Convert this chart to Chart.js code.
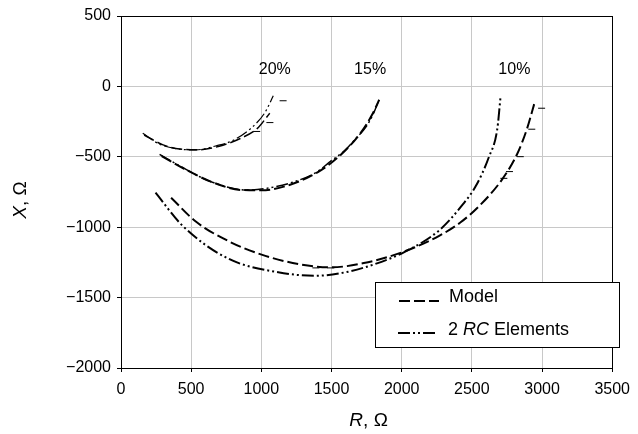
<!DOCTYPE html>
<html>
<head>
<meta charset="utf-8">
<script src="https://cdn.jsdelivr.net/npm/chart.js@4"></script>
<style>
  html, body { margin: 0; padding: 0; background: #fff; }
  #wrap { width: 638px; height: 434px; }
</style>
</head>
<body>
<div id="wrap"><canvas id="grafico" width="638" height="434"></canvas></div>
<script>
// valores (R, X em ohms)
const r20Model = [165, 300, 420, 550, 700, 850, 970, 1060];
const x20Model = [-345, -415, -445, -450, -425, -370, -300, -190];
const r20Rc = [155, 275, 392, 533, 674, 791, 932, 1026, 1085];
const x20Rc = [-333, -411, -442, -451, -423, -387, -292, -185, -67];

const r15Model = [290, 450, 650, 850, 1000, 1200, 1400, 1550, 1700, 1790, 1840];
const x15Model = [-495, -585, -680, -735, -738, -700, -610, -500, -340, -200, -95];
const r15Rc = [275, 420, 600, 800, 908, 1050, 1250, 1401, 1481, 1600, 1669, 1751, 1800, 1833];
const x15Rc = [-483, -565, -660, -725, -736, -722, -672, -605, -541, -450, -375, -280, -190, -110];

const r10Model = [357, 533, 768, 1002, 1265, 1495, 1730, 2012, 2270, 2420, 2552, 2716, 2822, 2892, 2944];
const x10Model = [-791, -960, -1100, -1195, -1262, -1285, -1255, -1175, -1060, -965, -850, -660, -482, -304, -126];
const r10Rc = [246, 439, 768, 1120, 1380, 1600, 1800, 2012, 2270, 2434, 2528, 2622, 2681, 2704];
const x10Rc = [-755, -990, -1225, -1320, -1345, -1320, -1265, -1180, -1020, -840, -708, -500, -304, -78];

// pequenos traços ao longo das curvas
const markR = [1155, 1061, 967, 897, 1389, 1495, 2997, 2927, 2845, 2768, 2728];
const markX = [-102, -257, -320, -736, -1289, -1289, -155, -304, -499, -605, -653];

// rótulos das curvas
const curveLabels = ["20%", "15%", "10%"];
const labelR = [1096, 1775, 2803];
const labelX = [120, 120, 120];

const xTicks = [0, 500, 1000, 1500, 2000, 2500, 3000, 3500];
const yTicks = [500, 0, -500, -1000, -1500, -2000];

const dashModel = [11, 4];
const dashRc = [12, 3, 2, 3, 2, 3];

function pontos(rs, xs) {
    return rs.map((r, i) => ({ x: r, y: xs[i] }));
}

function serie(label, rs, xs, dash, largura) {
    return {
        label: label,
        data: pontos(rs, xs),
        showLine: true,
        borderColor: "#000",
        borderWidth: largura,
        borderDash: dash,
        pointRadius: 0,
        cubicInterpolationMode: "monotone",
        fill: false
    };
}

const fonte = "'Liberation Sans', Arial, sans-serif";

// rótulos, títulos dos eixos, moldura e legenda
const extras = {
    id: "extras",
    afterDraw(chart) {
        const ctx = chart.ctx;
        const a = chart.chartArea;
        const sx = chart.scales.x;
        const sy = chart.scales.y;
        ctx.save();

        // moldura
        ctx.strokeStyle = "#000";
        ctx.lineWidth = 1;
        ctx.setLineDash([]);
        ctx.strokeRect(Math.round(a.left) + 0.5, Math.round(a.top) + 0.5,
            Math.round(a.right - a.left), Math.round(a.bottom - a.top));

        // rótulos das curvas
        ctx.fillStyle = "#000";
        ctx.font = "16px " + fonte;
        ctx.textAlign = "center";
        ctx.textBaseline = "middle";
        curveLabels.forEach((t, i) => {
            ctx.fillText(t, sx.getPixelForValue(labelR[i]), sy.getPixelForValue(labelX[i]));
        });

        // título do eixo x: R, Ω
        ctx.textAlign = "left";
        const partesX = [["R", true], [", \u03A9", false]];
        let larg = 0;
        partesX.forEach(p => {
            ctx.font = (p[1] ? "italic " : "") + "19px " + fonte;
            larg += ctx.measureText(p[0]).width;
        });
        let px = (a.left + a.right) / 2 - larg / 2 + 2;
        partesX.forEach(p => {
            ctx.font = (p[1] ? "italic " : "") + "19px " + fonte;
            ctx.fillText(p[0], px, 421);
            px += ctx.measureText(p[0]).width;
        });

        // título do eixo y: X, Ω
        ctx.save();
        ctx.translate(21, 200);
        ctx.rotate(-Math.PI / 2);
        const partesY = [["X", true], [", \u03A9", false]];
        larg = 0;
        partesY.forEach(p => {
            ctx.font = (p[1] ? "italic " : "") + "19px " + fonte;
            larg += ctx.measureText(p[0]).width;
        });
        px = -larg / 2;
        partesY.forEach(p => {
            ctx.font = (p[1] ? "italic " : "") + "19px " + fonte;
            ctx.fillText(p[0], px, 0);
            px += ctx.measureText(p[0]).width;
        });
        ctx.restore();

        // legenda
        const lx = 375.5, ly = 282.5, lw = 244, lh = 65;
        ctx.fillStyle = "#fff";
        ctx.fillRect(lx, ly, lw, lh);
        ctx.strokeStyle = "#000";
        ctx.lineWidth = 1;
        ctx.strokeRect(lx, ly, lw, lh);

        ctx.lineWidth = 2;
        ctx.setLineDash(dashModel);
        ctx.beginPath();
        ctx.moveTo(399, 301);
        ctx.lineTo(439, 301);
        ctx.stroke();
        ctx.setLineDash(dashRc);
        ctx.beginPath();
        ctx.moveTo(398, 333);
        ctx.lineTo(438, 333);
        ctx.stroke();
        ctx.setLineDash([]);

        ctx.fillStyle = "#000";
        ctx.font = "18px " + fonte;
        ctx.fillText("Model", 449, 297);
        const partesL = [["2 ", false], ["RC", true], [" Elements", false]];
        px = 448;
        partesL.forEach(p => {
            ctx.font = (p[1] ? "italic " : "") + "18px " + fonte;
            ctx.fillText(p[0], px, 330);
            px += ctx.measureText(p[0]).width;
        });

        ctx.restore();
    }
};

const ctx = document.getElementById("grafico").getContext("2d");
new Chart(ctx, {
    type: "scatter",
    data: {
        datasets: [
            serie("Model", r20Model, x20Model, dashModel, 1.5),
            serie("2 RC Elements", r20Rc, x20Rc, dashRc, 1.2),
            serie("Model", r15Model, x15Model, dashModel, 2),
            serie("2 RC Elements", r15Rc, x15Rc, dashRc, 1.5),
            serie("Model", r10Model, x10Model, dashModel, 2),
            serie("2 RC Elements", r10Rc, x10Rc, dashRc, 2),
            {
                label: "marcas",
                data: pontos(markR, markX),
                showLine: false,
                pointStyle: "line",
                pointRadius: 3.5,
                borderWidth: 1,
                borderColor: "#000",
                backgroundColor: "#000"
            }
        ]
    },
    options: {
        responsive: false,
        animation: false,
        events: [],
        layout: { padding: { top: 16, right: 20, left: 0, bottom: 0 } },
        plugins: {
            legend: { display: false },
            tooltip: { enabled: false }
        },
        scales: {
            x: {
                type: "linear",
                min: 0,
                max: 3500,
                afterBuildTicks: s => { s.ticks = xTicks.map(v => ({ value: v })); },
                afterFit: s => { s.height = 66; },
                grid: { color: "#c8c8c8", tickColor: "#000", tickLength: 4 },
                border: { color: "#000" },
                ticks: {
                    color: "#000",
                    padding: 8,
                    maxRotation: 0,
                    font: { family: fonte, size: 16 },
                    callback: v => String(v)
                }
            },
            y: {
                type: "linear",
                min: -2000,
                max: 500,
                afterBuildTicks: s => { s.ticks = yTicks.map(v => ({ value: v })); },
                afterFit: s => { s.width = 121; },
                grid: { color: "#c8c8c8", tickColor: "#000", tickLength: 4 },
                border: { color: "#000" },
                ticks: {
                    color: "#000",
                    padding: 6,
                    font: { family: fonte, size: 16 },
                    callback: v => (v < 0 ? "\u2212" + Math.abs(v) : String(v))
                }
            }
        }
    },
    plugins: [extras]
});
</script>
</body>
</html>
